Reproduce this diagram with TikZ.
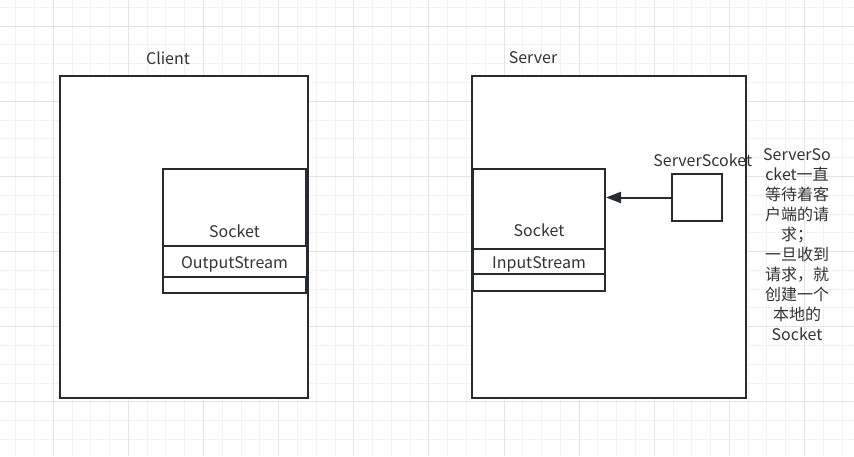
\documentclass[tikz,border=0pt]{standalone}
\usepackage{fontspec}
\setmainfont{Noto Sans CJK SC}
\usetikzlibrary{arrows.meta}
\definecolor{ln}{HTML}{262B31}
\definecolor{tx}{HTML}{333333}
\definecolor{gmin}{HTML}{F2F2F2}
\definecolor{gmaj}{HTML}{E4E4E4}
\tikzset{
  box/.style={draw=ln, line width=2pt, fill=white, inner sep=0pt},
  lbl/.style={text=tx, inner sep=0pt, font=\fontsize{16}{20}\selectfont},
  rowtext/.style={text height=14pt, text depth=1pt},
}
\begin{document}
\begin{tikzpicture}[x=1pt,y=-1pt]
\useasboundingbox (0,0) rectangle (854,456);
\fill[white] (0,0) rectangle (854,456);
% grid
\foreach \i in {-2,...,42} \draw[gmin, line width=1pt] ({53.3+18.78*\i},0) -- ({53.3+18.78*\i},456);
\foreach \j in {-1,...,22} \draw[gmin, line width=1pt] (0,{26.2+18.78*\j}) -- (854,{26.2+18.78*\j});
\foreach \i in {0,4,...,40} \draw[gmaj, line width=1pt] ({53.3+18.78*\i},0) -- ({53.3+18.78*\i},456);
\foreach \j in {0,4,...,20} \draw[gmaj, line width=1pt] (0,{26.2+18.78*\j}) -- (854,{26.2+18.78*\j});
% client
\node[box, minimum width=248, minimum height=322] (client) at (184,237) {};
\node[lbl] (clientlbl) at (168,58) {Client};
\node[box, lbl, minimum width=143, minimum height=124] (csock) at (234.5,231) {Socket};
\node[box, lbl, rowtext, minimum width=144, minimum height=31] (cout) at (234.5,261.5) {OutputStream};
% server
\node[box, minimum width=274, minimum height=322] (server) at (609,237) {};
\node[lbl] (serverlbl) at (533,58) {Server};
\node[box, lbl, minimum width=132, minimum height=122] (ssock) at (539,230) {Socket};
\node[box, lbl, rowtext, minimum width=132, minimum height=25] (sin) at (539,261.5) {InputStream};
\node[box, minimum width=50, minimum height=47] (ssbox) at (697,197.5) {};
\node[lbl] (sslbl) at (702.7,160) {ServerScoket};
\draw[ln, line width=2pt, -{Triangle[length=15pt,width=11pt]}] (ssbox.west) -- (ssock.east |- ssbox.west);
% note
\node[lbl, align=center] (note) at (797,244.5) {ServerSo\\cket一直\\等待着客\\户端的请\\求；\\一旦收到\\请求，就\\创建一个\\本地的\\Socket};
\end{tikzpicture}
\end{document}
